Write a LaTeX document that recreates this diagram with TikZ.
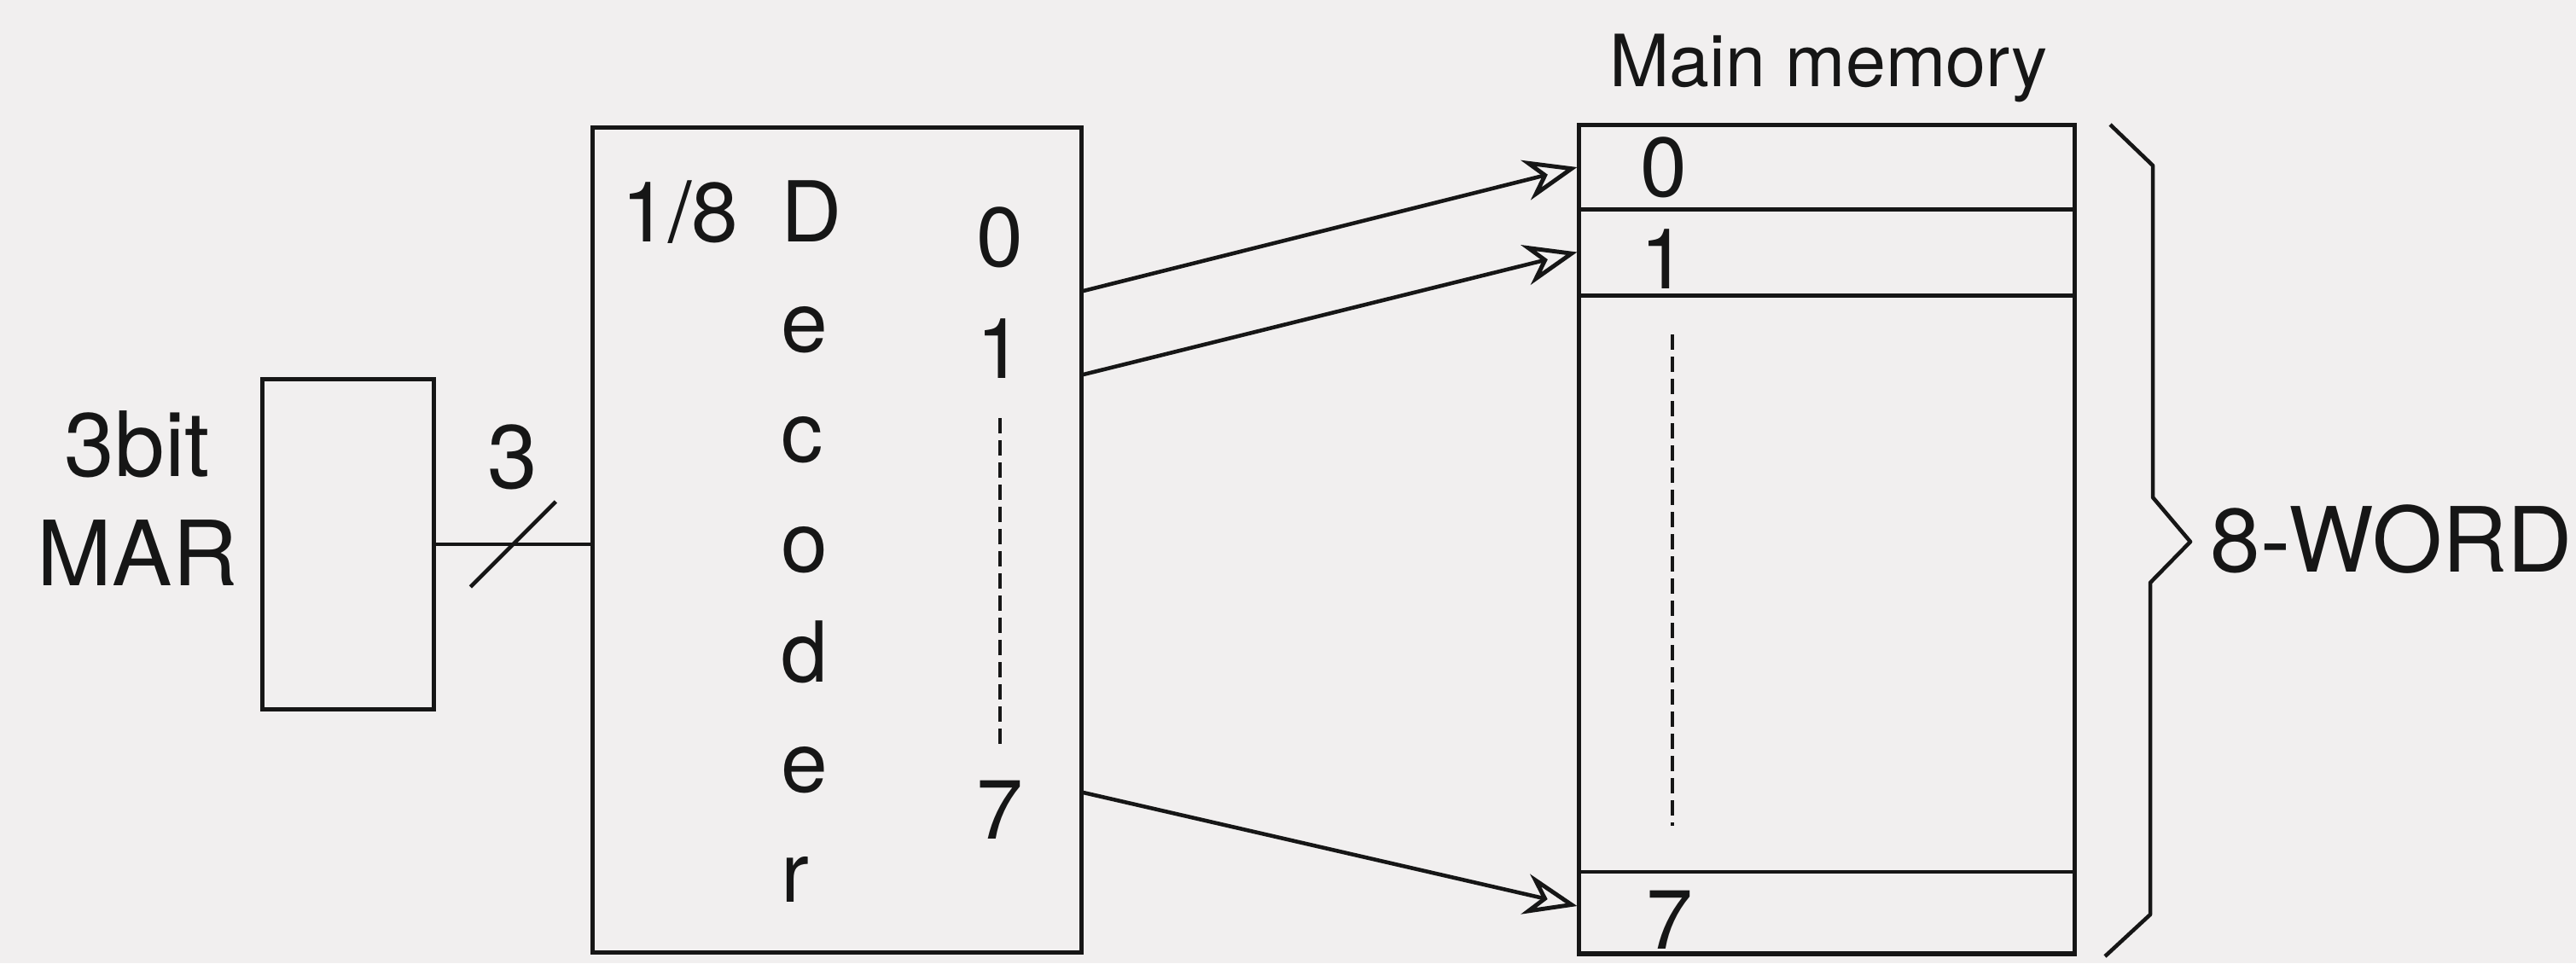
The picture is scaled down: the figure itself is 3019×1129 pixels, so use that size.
\documentclass[tikz,border=0pt]{standalone}
\usepackage{fontspec}
\setmainfont{TeX Gyre Heros}
\usetikzlibrary{arrows.meta,calc}
\definecolor{paper}{RGB}{241,239,239}
\definecolor{ink}{RGB}{22,22,22}

\begin{document}
\begin{tikzpicture}[x=0.01cm,y=-0.01cm,
  box/.style={draw=ink, line width=1.4pt, inner sep=0pt},
  lbl/.style={inner sep=0pt, anchor=base, text=ink},
  wire/.style={draw=ink, line width=1.3pt},
  feed/.style={wire, -{Stealth[open, length=0.62cm, width=0.48cm, inset=0.2cm, line width=1.4pt]}},
  dots/.style={draw=ink, line width=1.1pt, dash pattern=on 0.18cm off 0.08cm},
  big/.style={font=\fontsize{30}{35}\selectfont},
  mid/.style={font=\fontsize{28}{33}\selectfont},
  cell/.style={font=\fontsize{28}{33}\selectfont},
  small/.style={font=\fontsize{24}{28}\selectfont}]

% paper
\fill[paper] (0,0) rectangle (3019,1129);
\useasboundingbox (0,0) rectangle (3019,1129);

% 3-bit memory address register
\node[box, minimum width=2.00cm, minimum height=3.87cm] (mar) at (408,638) {};
\node[lbl, big] (marA) at (161,558) {3bit};
\node[lbl, big] (marB) at (161,686) {MAR};

% 1-of-8 decoder
\node[box, minimum width=5.72cm, minimum height=9.67cm] (dec) at (981,633) {};
\node[lbl, mid] (frac) at (797,283) {1/8};
\foreach \ch [count=\i from 0] in {D,e,c,o,d,e,r}
  \node[lbl, mid, anchor=base west] (dl\i) at (915,{283+129*\i}) {\ch};
\node[lbl, mid] (q0) at (1172,312) {0};
\node[lbl, mid] (q1) at (1172,443) {1};
\node[lbl, mid] (q7) at (1172,983) {7};
\draw[dots] (q1.north |- 0,490) -- (q7.north |- 0,878);

% 3-line address bus with width mark
\coordinate (busend) at (dec.west |- mar.east);
\draw[wire] (mar.east) -- (busend);
\coordinate (busmid) at ($(mar.east)!0.5!(busend)$);
\draw[wire] ($(busmid)+(-50,50)$) -- ($(busmid)+(50,-50)$);
\node[lbl, big] (buswidth) at (601,572) {3};

% main memory, eight words
\node[box, minimum width=5.80cm, minimum height=9.71cm] (mem) at (2141,632) {};
\node[box, minimum width=5.80cm, minimum height=0.98cm] (w0) at (2141,196) {};
\node[box, minimum width=5.80cm, minimum height=1.01cm] (w1) at (2141,295.5) {};
\node[box, minimum width=5.80cm, minimum height=0.96cm] (w7) at (2141,1070) {};
\node[lbl, cell] (m0) at (1950,230) {0};
\node[lbl, cell] (m1) at (1950,338) {1};
\node[lbl, cell] (m7) at (1957,1112) {7};
\draw[dots] (1960,392) -- (1960,968);
\node[lbl, small] (memtitle) at (2143,101) {Main memory};

% decoder outputs select the words
\coordinate (o0) at (dec.east |- 0,341);
\coordinate (o1) at (dec.east |- 0,439);
\coordinate (o7) at (dec.east |- 0,929);
\draw[feed] (o0) -- (w0.west);
\draw[feed] (o1) -- (w1.west);
\draw[feed] (o7) -- ($(w7.west)+(0,-8)$);

% size brace
\draw[wire, line join=round] (2473,146) -- (2523,194) -- (2523,583) -- (2567,635)
  -- (2520,683) -- (2520,1072) -- (2467,1121);
\node[lbl, big, anchor=base west] (size) at (2590,670) {8-WORD};
\end{tikzpicture}
\end{document}
